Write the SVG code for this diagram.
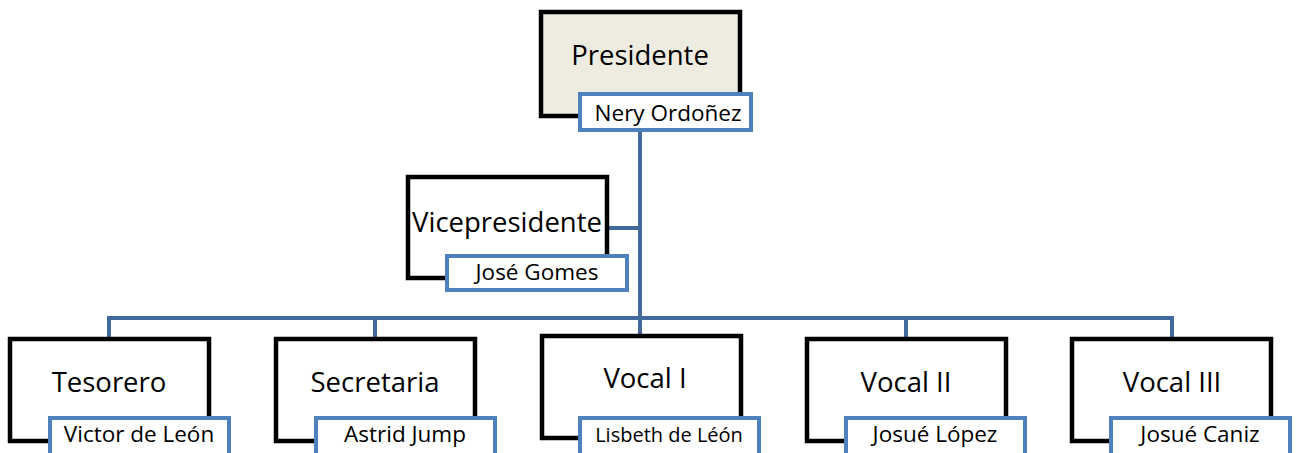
<svg xmlns="http://www.w3.org/2000/svg" width="1298" height="453" viewBox="0 0 1298 453">
<style>
.box{fill:#fff;stroke:#000;stroke-width:4.5}
.top{fill:#EEECE1}
.lab{fill:#fff;stroke:#4F81BD;stroke-width:4}
.t{font-family:"Open Sans","Liberation Sans",sans-serif;font-size:27.5px;fill:#000;text-anchor:middle}
.l{font-family:"Open Sans","Liberation Sans",sans-serif;font-size:22.5px;fill:#000;text-anchor:middle}
.c{fill:none;stroke:#41699B;stroke-width:4}
</style>
<g id="connectors">
<path class="c" d="M640 130V318M608 228H640M109 338V318H1172V338M375 318V338M640 318V338M906 318V338"/>
</g>
<g id="presidente">
<rect class="box top" x="541" y="12" width="199" height="104"/>
<text class="t" x="640" y="65">Presidente</text>
<rect class="lab" x="580" y="94" width="171" height="36"/>
<text class="l" x="668" y="121">Nery Ordoñez</text>
</g>
<g id="vicepresidente">
<rect class="box" x="408" y="177" width="199" height="101"/>
<text class="t" x="507" y="232">Vicepresidente</text>
<rect class="lab" x="447" y="256" width="180" height="34"/>
<text class="l" x="537" y="280">José Gomes</text>
</g>
<g id="tesorero">
<rect class="box" x="10" y="339" width="199" height="102"/>
<text class="t" x="109" y="392">Tesorero</text>
<rect class="lab" x="50" y="418" width="179" height="38"/>
<text class="l" x="139" y="442">Victor de León</text>
</g>
<g id="secretaria">
<rect class="box" x="276" y="339" width="199" height="102"/>
<text class="t" x="375" y="392">Secretaria</text>
<rect class="lab" x="316" y="418" width="179" height="38"/>
<text class="l" x="405" y="442">Astrid Jump</text>
</g>
<g id="vocal1">
<rect class="box" x="542" y="336" width="199" height="102"/>
<text class="t" x="645" y="388">Vocal I</text>
<rect class="lab" x="580" y="418" width="179" height="38"/>
<text class="l" x="669" y="442" style="font-size:20px">Lisbeth de Léón</text>
</g>
<g id="vocal2">
<rect class="box" x="807" y="339" width="199" height="102"/>
<text class="t" x="906" y="392">Vocal II</text>
<rect class="lab" x="846" y="418" width="179" height="38"/>
<text class="l" x="935" y="442">Josué López</text>
</g>
<g id="vocal3">
<rect class="box" x="1072" y="339" width="199" height="102"/>
<text class="t" x="1172" y="392">Vocal III</text>
<rect class="lab" x="1111" y="418" width="179" height="38"/>
<text class="l" x="1200" y="442">Josué Caniz</text>
</g>
</svg>
